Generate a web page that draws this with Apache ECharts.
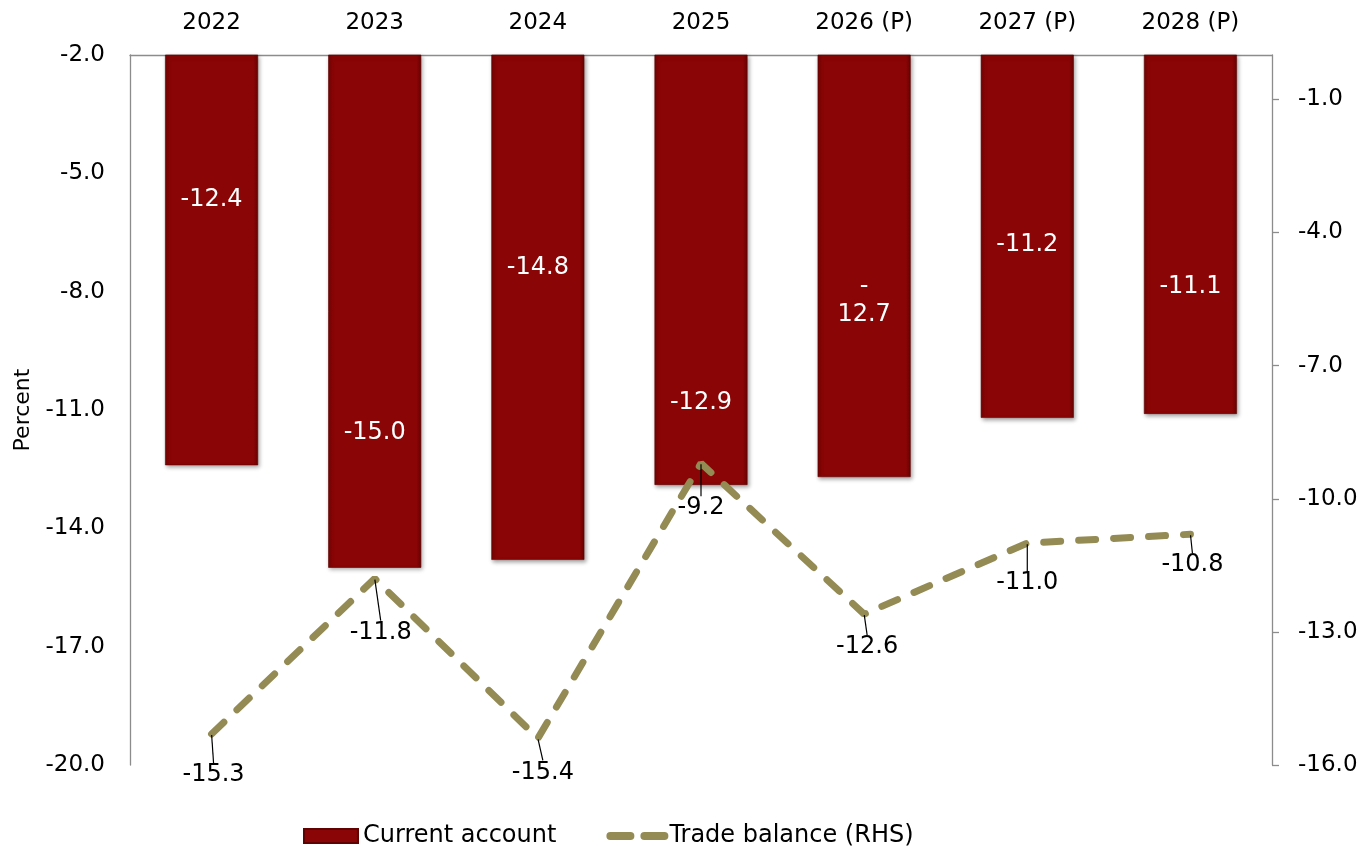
<!DOCTYPE html>
<html>
<head>
<meta charset="utf-8">
<title>Current account and trade balance</title>
<script src="https://cdn.jsdelivr.net/npm/echarts@6/dist/echarts.min.js"></script>
<style>
  html, body { margin: 0; padding: 0; background: #ffffff; }
  #chart { width: 1367px; height: 846px; }
</style>
</head>
<body>
<div id="chart"></div>
<script>
// Years on the category axis
const years = ['2022', '2023', '2024', '2025', '2026 (P)', '2027 (P)', '2028 (P)'];
// Current account, percent (left axis)
const currentAccount = [-12.4, -15.0, -14.8, -12.9, -12.7, -11.2, -11.1];
// Trade balance, percent (right axis)
const tradeBalance = [-15.3, -11.8, -15.4, -9.2, -12.6, -11.0, -10.8];
// Tick labels on each value axis
const leftTicks = [-20, -17, -14, -11, -8, -5, -2];
const rightTicks = [-16, -13, -10, -7, -4, -1];
const rightAxisTop = 0;

// Label placement (pixels)
const barLabelDrop = [145, 378, 213, 348, 246, 190, 232];
const barLabelWrap = [false, false, false, false, true, false, false];
const lineLabelShift = [[2, 41], [6, 54], [5, 34], [0, 45], [3, 33], [0, 40], [2, 31]];

const FONT = 'DejaVu Sans';
const AXIS_GREY = '#8c8c8c';
const OLIVE = '#948a54';
const GRID = { left: 130, right: 95, top: 55, bottom: 81 };

const barFill = new echarts.graphic.LinearGradient(0, 0, 1, 0, [
  { offset: 0, color: '#760303' },
  { offset: 0.05, color: '#8a0505' },
  { offset: 0.95, color: '#8a0505' },
  { offset: 1, color: '#6a0202' }
]);

const chart = echarts.init(document.getElementById('chart'), null, { renderer: 'canvas' });

chart.setOption({
  animation: false,
  backgroundColor: '#ffffff',
  textStyle: { fontFamily: FONT, color: '#000' },
  grid: Object.assign({ containLabel: false }, GRID),
  legend: {
    left: 298,
    top: 819,
    itemWidth: 54,
    itemHeight: 14,
    itemGap: 50,
    textStyle: { fontFamily: FONT, fontSize: 24, color: '#000' },
    data: [
      { name: 'Current account', icon: 'rect' },
      {
        name: 'Trade balance (RHS)',
        lineStyle: { color: OLIVE, width: 8, type: [20, 14], cap: 'round' }
      }
    ]
  },
  xAxis: {
    type: 'category',
    position: 'top',
    data: years,
    axisLine: { show: true, onZero: false, lineStyle: { color: AXIS_GREY, width: 1.3 } },
    axisTick: { show: false },
    axisLabel: { margin: 20, fontSize: 23, color: '#000', fontFamily: FONT },
    splitLine: { show: false }
  },
  yAxis: [
    {
      type: 'value',
      position: 'left',
      min: leftTicks[0],
      max: leftTicks[leftTicks.length - 1],
      interval: leftTicks[1] - leftTicks[0],
      name: 'Percent',
      nameLocation: 'middle',
      nameRotate: 90,
      nameGap: 85,
      nameTextStyle: { fontFamily: FONT, fontSize: 22, color: '#000' },
      axisLine: { show: true, onZero: false, lineStyle: { color: AXIS_GREY, width: 1.3 } },
      axisTick: { show: false },
      splitLine: { show: false },
      axisLabel: {
        margin: 25, fontSize: 23, color: '#000', fontFamily: FONT,
        formatter: v => v.toFixed(1)
      }
    },
    {
      type: 'value',
      position: 'right',
      min: rightTicks[0],
      max: rightAxisTop,
      interval: rightTicks[1] - rightTicks[0],
      axisLine: { show: true, onZero: false, lineStyle: { color: AXIS_GREY, width: 1.3 } },
      axisTick: {
        show: true, inside: false, length: 7,
        customValues: rightTicks,
        lineStyle: { color: AXIS_GREY, width: 1.3 }
      },
      splitLine: { show: false },
      axisLabel: {
        margin: 26, fontSize: 23, color: '#000', fontFamily: FONT,
        customValues: rightTicks,
        formatter: v => v.toFixed(1)
      }
    }
  ],
  series: [
    {
      name: 'Current account',
      type: 'bar',
      yAxisIndex: 0,
      data: currentAccount,
      barWidth: '57%',
      clip: true,
      itemStyle: {
        color: barFill,
        borderColor: '#5e0202',
        borderWidth: 0.6,
        shadowColor: 'rgba(0,0,0,0.35)',
        shadowBlur: 4,
        shadowOffsetX: 1.5,
        shadowOffsetY: 2
      },
      label: {
        show: true,
        position: 'inside',
        color: '#ffffff',
        fontFamily: FONT,
        fontSize: 24,
        lineHeight: 28,
        formatter: (p) => barLabelWrap[p.dataIndex]
          ? '-\n' + Math.abs(p.value).toFixed(1)
          : p.value.toFixed(1)
      },
      labelLayout: (p) => ({
        x: p.rect.x + p.rect.width / 2,
        y: GRID.top + barLabelDrop[p.dataIndex],
        align: 'center',
        verticalAlign: 'middle'
      }),
      z: 2
    },
    {
      name: 'Trade balance (RHS)',
      type: 'line',
      yAxisIndex: 1,
      data: tradeBalance,
      symbol: 'circle',
      symbolSize: 2,
      showSymbol: true,
      itemStyle: { color: 'rgba(0,0,0,0)' },
      lineStyle: { color: OLIVE, width: 7, type: [17, 18], cap: 'round' },
      label: {
        show: true,
        position: 'inside',
        align: 'center',
        verticalAlign: 'middle',
        color: '#000',
        fontFamily: FONT,
        fontSize: 24,
        formatter: (p) => p.value.toFixed(1)
      },
      labelLayout: (p) => ({ dx: lineLabelShift[p.dataIndex][0], dy: lineLabelShift[p.dataIndex][1] }),
      labelLine: { show: true, smooth: false, lineStyle: { color: '#000', width: 1.2 } },
      z: 5
    }
  ]
});
</script>
</body>
</html>
